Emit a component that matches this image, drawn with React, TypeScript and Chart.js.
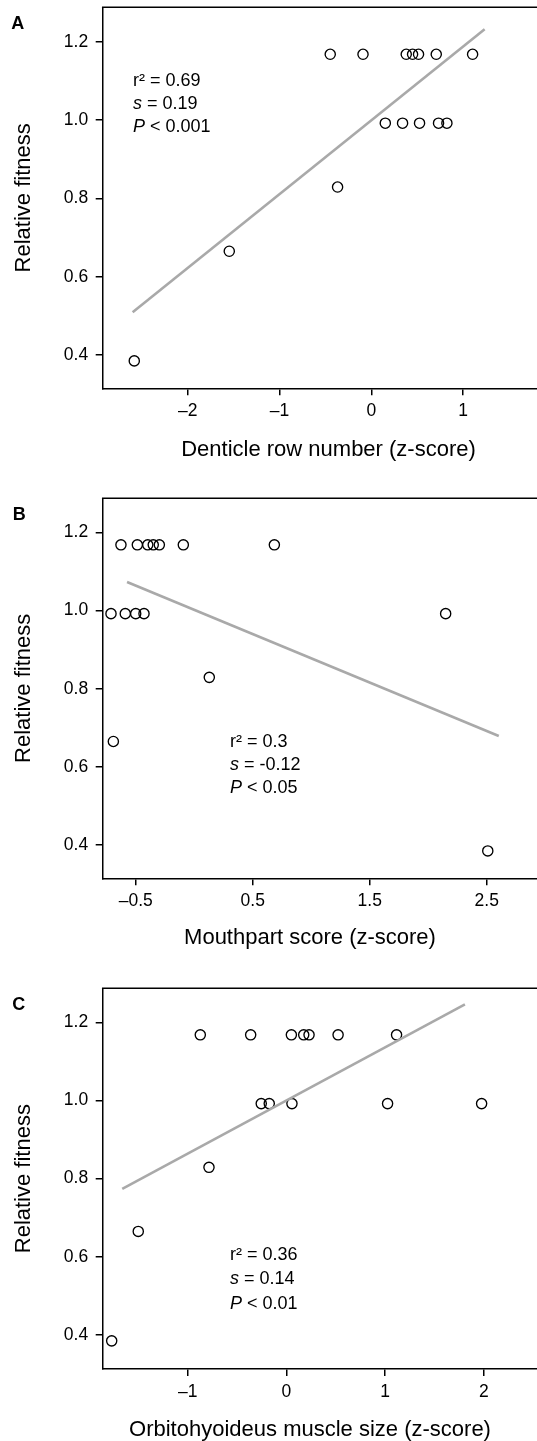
import React, { useEffect, useRef } from "react";
import { Chart, registerables } from "chart.js";

Chart.register(...registerables);

const FONT_FAMILY = '"Liberation Sans", Arial, Helvetica, sans-serif';

// Shared response variable (same individuals in each panel)
const relativeFitness = [1.168, 1.168, 1.168, 1.168, 1.168, 1.168, 1.168, 0.992, 0.992, 0.992, 0.992, 0.992, 0.829, 0.665, 0.385];
const fitnessTicks = [0.4, 0.6, 0.8, 1.0, 1.2];
const fitnessTickLabels = ["0.4", "0.6", "0.8", "1.0", "1.2"];

// Panel A – denticle row number
const denticleZ = [-0.447, -0.09, 0.381, 0.45, 0.515, 0.708, 1.104, 0.153, 0.341, 0.526, 0.733, 0.824, -0.367, -1.547, -2.582];
const denticleFitX = [-2.6, 1.235];
const denticleFitY = [0.509, 1.232];
const denticleTicks = [-2, -1, 0, 1];
const denticleTickLabels = ["\u20132", "\u20131", "0", "1"];
const denticleStats = ["0.69", "0.19", "< 0.001"];

// Panel B – mouthpart score
const mouthpartZ = [-0.626, -0.486, -0.397, -0.35, -0.298, -0.093, 0.685, -0.711, -0.589, -0.5, -0.429, 2.149, 0.129, -0.691, 2.509];
const mouthpartFitX = [-0.574, 2.603];
const mouthpartFitY = [1.073, 0.679];
const mouthpartTicks = [-0.5, 0.5, 1.5, 2.5];
const mouthpartTickLabels = ["\u20130.5", "0.5", "1.5", "2.5"];
const mouthpartStats = ["0.3", "-0.12", "< 0.05"];

// Panel C – orbitohyoideus muscle size
const muscleZ = [-0.872, -0.362, 0.05, 0.175, 0.229, 0.523, 1.115, -0.255, -0.174, 0.056, 1.024, 1.976, -0.784, -1.5, -1.769];
const muscleFitX = [-1.662, 1.807];
const muscleFitY = [0.774, 1.246];
const muscleTicks = [-1, 0, 1, 2];
const muscleTickLabels = ["\u20131", "0", "1", "2"];
const muscleStats = ["0.36", "0.14", "< 0.01"];

type PanelCfg = {
  letter: string;
  xTitle: string;
  xValues: number[];
  fitX: number[];
  fitY: number[];
  xTicks: number[];
  xTickLabels: string[];
  stats: string[];
  xMin: number;
  xMax: number;
  yMin: number;
  yMax: number;
  top: number;
  width: number;
  height: number;
  padTop: number;
  padBottom: number;
  xAxisHeight: number;
  letterX: number;
  letterBaseline: number;
  statsX: number;
  statsY: number;
  statsGap: number;
};

const panels: PanelCfg[] = [
  {
    letter: "A",
    xTitle: "Denticle row number (z-score)",
    xValues: denticleZ,
    fitX: denticleFitX,
    fitY: denticleFitY,
    xTicks: denticleTicks,
    xTickLabels: denticleTickLabels,
    stats: denticleStats,
    xMin: -2.926,
    xMax: 3.113,
    yMin: 0.315,
    yMax: 1.288,
    top: 0,
    width: 657,
    height: 466,
    padTop: 7.3,
    padBottom: 3,
    xAxisHeight: 48.3,
    letterX: 11.2,
    letterBaseline: 28.5,
    statsX: -2.596,
    statsY: 1.087,
    statsGap: 23.2,
  },
  {
    letter: "B",
    xTitle: "Mouthpart score (z-score)",
    xValues: mouthpartZ,
    fitX: mouthpartFitX,
    fitY: mouthpartFitY,
    xTicks: mouthpartTicks,
    xTickLabels: mouthpartTickLabels,
    stats: mouthpartStats,
    xMin: -0.782,
    xMax: 3.639,
    yMin: 0.315,
    yMax: 1.287,
    top: 470,
    width: 620,
    height: 484,
    padTop: 28.3,
    padBottom: 2.5,
    xAxisHeight: 46.8,
    letterX: 12.8,
    letterBaseline: 49.5,
    statsX: 0.306,
    statsY: 0.65,
    statsGap: 22.7,
  },
  {
    letter: "C",
    xTitle: "Orbitohyoideus muscle size (z-score)",
    xValues: muscleZ,
    fitX: muscleFitX,
    fitY: muscleFitY,
    xTicks: muscleTicks,
    xTickLabels: muscleTickLabels,
    stats: muscleStats,
    xMin: -1.86,
    xMax: 3.377,
    yMin: 0.313,
    yMax: 1.287,
    top: 958,
    width: 620,
    height: 488,
    padTop: 30.3,
    padBottom: 3,
    xAxisHeight: 47.6,
    letterX: 12.2,
    letterBaseline: 52.2,
    statsX: -0.572,
    statsY: 0.593,
    statsGap: 24.5,
  },
];

function Panel({ cfg }: { cfg: PanelCfg }) {
  const ref = useRef<HTMLCanvasElement | null>(null);

  useEffect(() => {
    if (!ref.current) return;

    const decor = {
      id: "decor" + cfg.letter,
      afterDraw(chart: any) {
        const { ctx, chartArea, scales } = chart;
        ctx.save();
        // top frame line
        ctx.strokeStyle = "#000";
        ctx.lineWidth = 1.5;
        ctx.beginPath();
        ctx.moveTo(chartArea.left - 0.75, chartArea.top);
        ctx.lineTo(chartArea.right, chartArea.top);
        ctx.stroke();

        // panel letter
        ctx.fillStyle = "#000";
        ctx.textAlign = "left";
        ctx.textBaseline = "alphabetic";
        ctx.font = `bold 18px ${FONT_FAMILY}`;
        ctx.fillText(cfg.letter, cfg.letterX, cfg.letterBaseline);

        // statistics
        const x0 = scales.x.getPixelForValue(cfg.statsX);
        const y0 = scales.y.getPixelForValue(cfg.statsY);
        const rows: [string, boolean][][] = [
          [["r\u00B2 = " + cfg.stats[0], false]],
          [["s", true], [" = " + cfg.stats[1], false]],
          [["P", true], [" " + cfg.stats[2], false]],
        ];
        rows.forEach((row, i) => {
          let x = x0;
          const y = y0 + i * cfg.statsGap;
          row.forEach(([t, italic]) => {
            ctx.font = `${italic ? "italic " : ""}18px ${FONT_FAMILY}`;
            ctx.fillText(t, x, y);
            x += ctx.measureText(t).width;
          });
        });
        ctx.restore();
      },
    };

    const chart = new Chart(ref.current, {
      type: "scatter",
      data: {
        datasets: [
          {
            data: cfg.fitX.map((x, i) => ({ x, y: cfg.fitY[i] })),
            showLine: true,
            borderColor: "#a9a9a9",
            borderWidth: 2.6,
            pointRadius: 0,
            pointHoverRadius: 0,
            fill: false,
          } as any,
          {
            data: cfg.xValues.map((x, i) => ({ x, y: relativeFitness[i] })),
            pointStyle: "circle",
            pointRadius: 5.1,
            pointHoverRadius: 5.1,
            pointBorderWidth: 1.35,
            borderColor: "#000",
            backgroundColor: "rgba(0,0,0,0)",
          } as any,
        ],
      },
      options: {
        animation: false,
        responsive: false,
        devicePixelRatio: 1,
        events: [],
        layout: {
          autoPadding: false,
          padding: { top: cfg.padTop, bottom: cfg.padBottom, left: 0, right: 0 },
        },
        plugins: {
          legend: { display: false },
          tooltip: { enabled: false },
          title: {
            display: true,
            text: cfg.xTitle,
            position: "bottom",
            color: "#000",
            font: { family: FONT_FAMILY, size: 22, weight: "normal" },
            padding: 0,
          },
        },
        scales: {
          x: {
            type: "linear",
            position: "bottom",
            min: cfg.xMin,
            max: cfg.xMax,
            afterBuildTicks: (s: any) => {
              s.ticks = cfg.xTicks.map((v) => ({ value: v }));
            },
            afterFit: (s: any) => {
              s.height = cfg.xAxisHeight;
              s.paddingLeft = 0;
              s.paddingRight = 0;
            },
            ticks: {
              color: "#000",
              font: { family: FONT_FAMILY, size: 17.5 },
              padding: 5.5,
              maxRotation: 0,
              autoSkip: false,
              callback: (_v: any, i: number) => cfg.xTickLabels[i],
            },
            grid: {
              drawOnChartArea: false,
              drawTicks: true,
              tickLength: 7,
              color: "#000",
              lineWidth: 1.5,
            },
            border: { display: true, color: "#000", width: 1.5 },
          },
          y: {
            type: "linear",
            position: "left",
            min: cfg.yMin,
            max: cfg.yMax,
            afterBuildTicks: (s: any) => {
              s.ticks = fitnessTicks.map((v) => ({ value: v }));
            },
            afterFit: (s: any) => {
              s.width = 102.7;
              s.paddingTop = 0;
              s.paddingBottom = 0;
            },
            ticks: {
              color: "#000",
              font: { family: FONT_FAMILY, size: 17.5 },
              padding: 7.5,
              autoSkip: false,
              callback: (_v: any, i: number) => fitnessTickLabels[i],
            },
            grid: {
              drawOnChartArea: false,
              drawTicks: true,
              tickLength: 7,
              color: "#000",
              lineWidth: 1.5,
            },
            border: { display: true, color: "#000", width: 1.5 },
            title: {
              display: true,
              text: "Relative fitness",
              color: "#000",
              font: { family: FONT_FAMILY, size: 22 },
              padding: { top: 10.8, bottom: 0 },
            },
          },
        },
      } as any,
      plugins: [decor],
    });

    return () => chart.destroy();
  }, [cfg]);

  return (
    <canvas
      ref={ref}
      width={cfg.width}
      height={cfg.height}
      style={{
        position: "absolute",
        left: 0,
        top: cfg.top,
        width: cfg.width,
        height: cfg.height,
      }}
    />
  );
}

export default function App() {
  return (
    <div
      style={{
        position: "absolute",
        left: 0,
        top: 0,
        width: 537,
        height: 1441,
        overflow: "hidden",
        background: "#fff",
      }}
    >
      {panels.map((p) => (
        <Panel key={p.letter} cfg={p} />
      ))}
    </div>
  );
}
